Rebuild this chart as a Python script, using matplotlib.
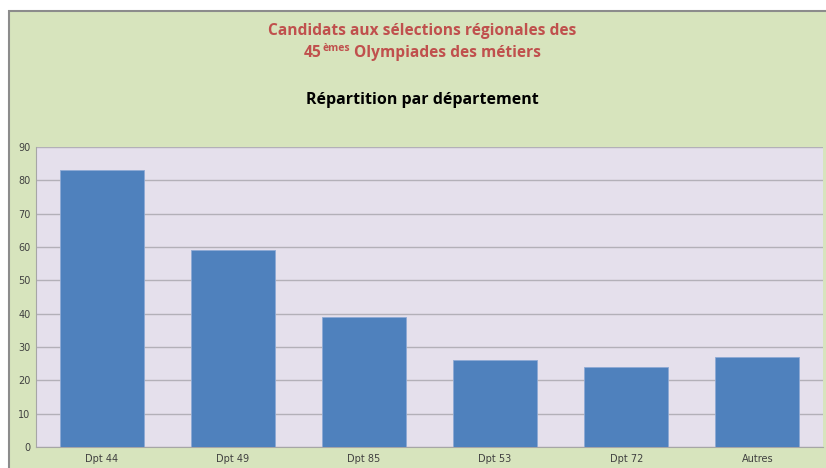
import numpy as np
import matplotlib
matplotlib.use("Agg")
import matplotlib.pyplot as plt
from matplotlib.patches import Rectangle

# data
departements = ["Dpt 44", "Dpt 49", "Dpt 85", "Dpt 53", "Dpt 72", "Autres"]
candidats = [83, 59, 39, 26, 24, 27]
yticks = [0, 10, 20, 30, 40, 50, 60, 70, 80, 90]

titre_1 = "Candidats aux sélections régionales des"
titre_2a = "45"
titre_2b = "èmes"
titre_2c = " Olympiades des métiers"
sous_titre = "Répartition par département"

W, H = 826, 468
fig = plt.figure(figsize=(W / 100, H / 100), dpi=100)
fig.patch.set_facecolor("white")

# green chart area with grey border on top/left
bg = Rectangle((8 / W, 0), 1 - 8 / W, 1 - 10 / H, transform=fig.transFigure,
               facecolor="#D7E4BD", edgecolor="none", zorder=-1)
fig.patches.append(bg)
fig.add_artist(plt.Line2D([8.5 / W, 8.5 / W], [0, 1 - 10 / H], transform=fig.transFigure,
                          color="#8c8c8c", lw=1.5, solid_capstyle="butt", zorder=-0.5))
fig.add_artist(plt.Line2D([8 / W, 1], [1 - 10.5 / H, 1 - 10.5 / H], transform=fig.transFigure,
                          color="#8c8c8c", lw=1.5, solid_capstyle="butt", zorder=-0.5))

ax = fig.add_axes([36 / W, 1 - 447 / H, (823 - 36) / W, (447 - 147) / H])
ax.set_facecolor("#E5E0EC")
x = np.arange(len(departements))
ax.bar(x, candidats, width=0.64, color="#4F81BD", edgecolor="#8EA9D4", linewidth=0.6, zorder=3)
ax.set_xlim(-0.5, len(departements) - 0.5)
ax.set_ylim(0, 90)
ax.set_yticks(yticks)
ax.set_xticks(x)
ax.set_xticklabels(departements)
ax.yaxis.grid(True, color="#B3B0B8", lw=1.0, zorder=1)
ax.tick_params(axis="both", length=0, labelsize=7, colors="#404040", pad=4)
ax.tick_params(axis="x", pad=5)
for s in ["top", "right"]:
    ax.spines[s].set_visible(False)
ax.spines["left"].set_color("#A6A6A6")
ax.spines["bottom"].set_color("#A6A6A6")

red = "#C0504D"
fam = ["Open Sans", "DejaVu Sans"]
fig.text(422 / W, 1 - 31 / H, titre_1, ha="center", va="center", fontsize=11.2,
         fontweight="bold", color=red, family=fam)

# second line with superscript, assembled piece by piece
fig.canvas.draw()
r = fig.canvas.get_renderer()
y2 = 1 - 53 / H
t1 = fig.text(0, y2, titre_2a, ha="left", va="center", fontsize=11.2, fontweight="bold",
              color=red, family=fam)
t2 = fig.text(0, y2 + 5 / H, titre_2b, ha="left", va="center", fontsize=7.5,
              fontweight="bold", color=red, family=fam)
t3 = fig.text(0, y2, titre_2c, ha="left", va="center", fontsize=11.2, fontweight="bold",
              color=red, family=fam)
w1 = t1.get_window_extent(r).width
w2 = t2.get_window_extent(r).width
w3 = t3.get_window_extent(r).width
x0 = (422 - (w1 + w2 + w3) / 2)
t1.set_x(x0 / W)
t2.set_x((x0 + w1 + 0.5) / W)
t3.set_x((x0 + w1 + w2 + 0.5) / W)

fig.text(422 / W, 1 - 100 / H, sous_titre, ha="center", va="center", fontsize=11.5,
         fontweight="bold", color="black", family=fam)

fig.savefig("out.png", dpi=100, facecolor=fig.get_facecolor())
